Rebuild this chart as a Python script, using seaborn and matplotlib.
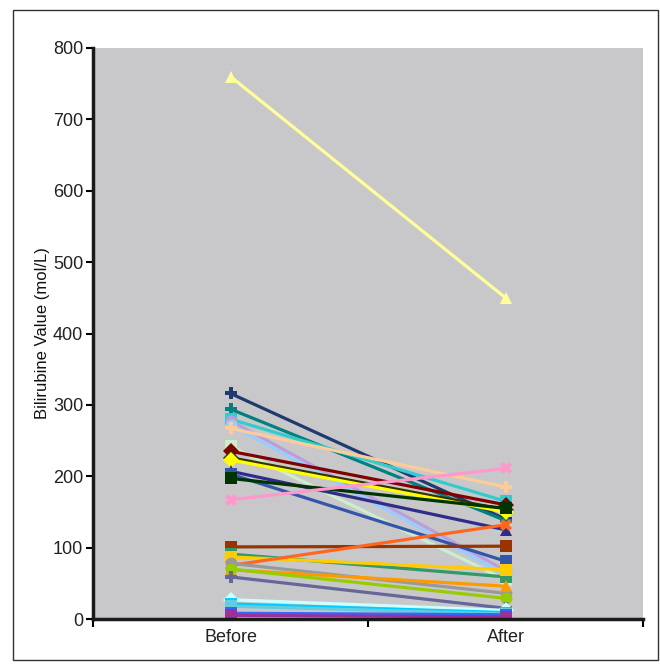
import numpy as np
import pandas as pd
import matplotlib.pyplot as plt
import matplotlib.patches as mpatches
from matplotlib.ticker import FixedLocator
import seaborn as sns

sns.set_theme(style="white")
plt.rcParams["font.family"] = ["Liberation Sans", "DejaVu Sans"]

# Valores (Before -> After)
timepoints = ["Before", "After"]
series_names = [f"P{i:02d}" for i in range(1, 29)]
before_vals = [760, 316, 294, 280, 278, 272, 267, 242, 235, 226, 223, 207, 203, 197,
               167, 101, 91, 87, 75, 78, 69, 70, 59, 27, 21, 18, 8, 5]
after_vals = [450, 140, 138, 165, 68, 62, 185, 55, 160, 153, 150, 125, 81, 155,
              211, 102, 59, 69, 132, 36, 46, 29, 15, 12, 9, 7, 6, 3]
series_colors = ["#FFFF99", "#1F3A6E", "#008080", "#33CCCC", "#B9A0DC", "#99CCFF",
                 "#FFCC99", "#CCEECC", "#800000", "#333300", "#FFFF00", "#2E2E8A",
                 "#3355AA", "#003300", "#FF99CC", "#993300", "#339966", "#FFCC00",
                 "#FF6620", "#999999", "#FF9900", "#99CC00", "#666699", "#CCFFFF",
                 "#00CCFF", "#66CCDD", "#3366FF", "#993399"]
series_markers = ["^", "P", "P", "s", "o", "o", "P", "s", "D", "D", "D", "^",
                  "s", "s", "X", "s", "s", "s", "X", "o", "^", "o", "P", "D",
                  "s", "s", "s", "s"]

df = pd.DataFrame({
    "series": np.repeat(series_names, 2),
    "time": timepoints * len(series_names),
    "value": np.ravel(np.column_stack([before_vals, after_vals])),
})

fig = plt.figure(figsize=(6.6, 6.67), dpi=100)
ax = fig.add_axes([93 / 660, 48 / 667, 550 / 660, 571 / 667])
ax.set_facecolor("#C8C8CA")

sns.lineplot(data=df, x="time", y="value", hue="series", style="series",
             palette=dict(zip(series_names, series_colors)),
             markers=dict(zip(series_names, series_markers)),
             dashes=False, sort=False, legend=False, ax=ax,
             linewidth=2.3, markersize=8.5, markeredgewidth=0)

ax.set_xlim(-0.5, 1.5)
ax.set_ylim(0, 800)
ax.set_yticks(range(0, 801, 100))
ax.set_xticks([0, 1])
ax.set_xticklabels(timepoints)
ax.xaxis.set_minor_locator(FixedLocator([-0.5, 0.5, 1.5]))
ax.tick_params(axis="x", which="major", length=0, labelsize=13, pad=7, labelcolor="#222222")
ax.tick_params(axis="x", which="minor", length=6, width=1.5, color="black",
               direction="out", bottom=True)
ax.tick_params(axis="y", length=5, width=1.5, color="black", direction="out",
               left=True, labelsize=13, pad=2, labelcolor="#222222")
ax.set_xlabel("")
ax.set_ylabel("Bilirubine Value (mol/L)", fontsize=12, labelpad=2, color="#111111")

for side in ["top", "right"]:
    ax.spines[side].set_visible(False)
for side in ["left", "bottom"]:
    ax.spines[side].set_color("#1A1A1A")
    ax.spines[side].set_linewidth(2.5)

# Moldura externa
fig.patches.append(mpatches.Rectangle((13 / 660, 7 / 667), 645 / 660, 650 / 667,
                                      transform=fig.transFigure, fill=False,
                                      edgecolor="#333333", linewidth=1))

plt.savefig("out.png", dpi=100)
plt.close()
